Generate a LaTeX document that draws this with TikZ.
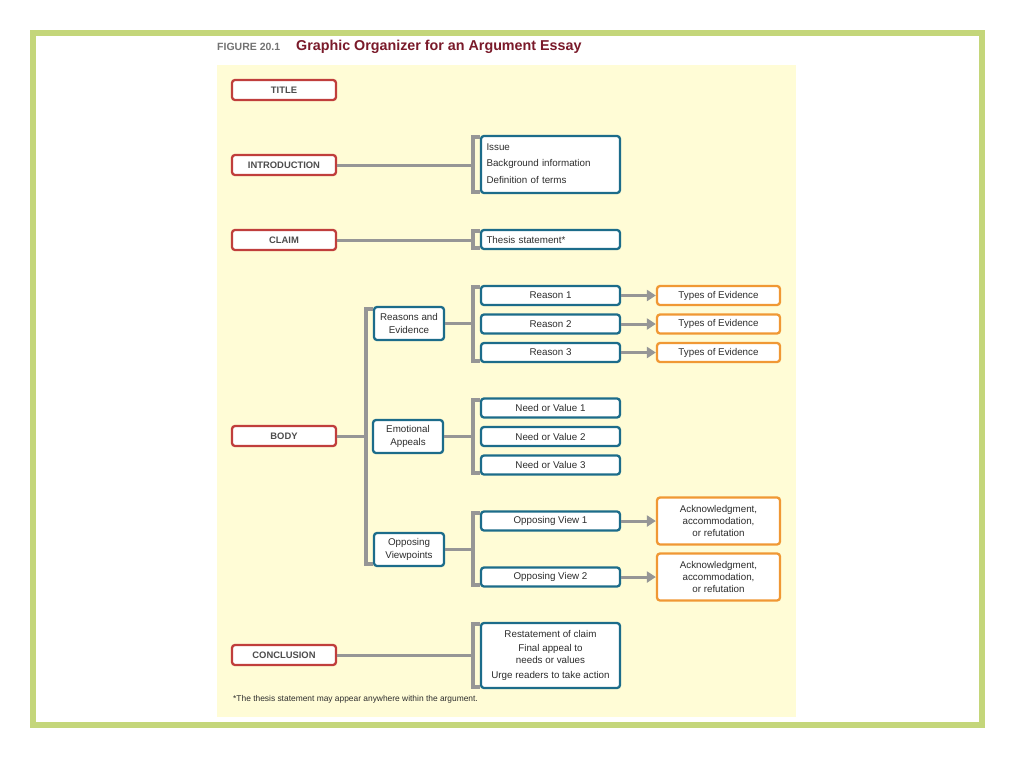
\documentclass[tikz,border=0pt]{standalone}
\usepackage{fontspec}
\setmainfont{Liberation Sans}
\usetikzlibrary{arrows.meta}
\definecolor{framegreen}{RGB}{196,214,122}
\definecolor{paneyellow}{RGB}{255,252,214}
\definecolor{boxred}{RGB}{192,62,60}
\definecolor{boxblue}{RGB}{28,108,138}
\definecolor{boxorange}{RGB}{240,152,52}
\definecolor{linegray}{RGB}{150,150,150}
\definecolor{titlered}{RGB}{122,26,42}
\definecolor{textgray}{RGB}{45,45,45}
\tikzset{
  box/.style={draw, fill=white, rounded corners=3pt, line width=2.3pt, inner sep=1pt,
    text=textgray, align=center, font=\fontsize{9.8}{12.3}\selectfont},
  redbox/.style={box, draw=boxred, minimum width=104pt, minimum height=20pt,
    font=\fontsize{9.4}{11}\selectfont\bfseries, text=black!70},
  bluebox/.style={box, draw=boxblue, minimum width=139pt, minimum height=19pt},
  subbox/.style={box, draw=boxblue, minimum width=70pt, minimum height=33pt},
  orangebox/.style={box, draw=boxorange, minimum width=123pt, minimum height=19pt},
  link/.style={draw=linegray, line width=3pt},
  bracketline/.style={draw=linegray, line width=3.2pt},
  arrowlink/.style={link, -{Triangle[length=9pt,width=11pt]}}
}
\begin{document}
\begin{tikzpicture}[x=1pt,y=-1pt]
% page, frame and panel
\useasboundingbox (0,0) rectangle (1024,768);
\fill[white] (0,0) rectangle (1024,768);
\draw[framegreen, line width=6pt] (33,33) rectangle (982,725);
\fill[paneyellow] (217,65) rectangle (796,717);
% heading
\node[anchor=west, inner sep=0pt, text=black!55, font=\fontsize{10.5}{12}\selectfont\bfseries] (fig) at (217,47) {FIGURE 20.1};
\node[anchor=west, inner sep=0pt, text=titlered, font=\fontsize{14.3}{16}\selectfont\bfseries] (heading) at (296,46.5) {Graphic Organizer for an Argument Essay};

% left column
\node[redbox] (title) at (284,90) {TITLE};
\node[redbox] (intro) at (284,165) {INTRODUCTION};
\node[redbox] (claim) at (284,240) {CLAIM};
\node[redbox] (body) at (284,436) {BODY};
\node[redbox] (concl) at (284,655) {CONCLUSION};

% introduction and claim
\node[bluebox, minimum height=57pt, text width=128pt, align=left, inner xsep=5pt] (introlist) at (550.5,164.5)
  {\strut Issue\\[4.5pt]\strut Background information\\[4.5pt]\strut Definition of terms};
\node[bluebox, text width=128pt, align=left, inner xsep=5pt] (thesis) at (550.5,239.5) {Thesis statement*};
\coordinate (introbrk) at (473,165);
\coordinate (claimbrk) at (473,240);
\draw[link] (intro.east) -- (introbrk);
\draw[link] (claim.east) -- (claimbrk);
\draw[bracketline] (480,137) -| (473,192) -- (480,192);
\draw[bracketline] (480,231) -| (473,248) -- (480,248);

% body
\node[subbox] (reasons) at (409,323.5) {Reasons and\\Evidence};
\node[subbox] (emotion) at (408,436.5) {Emotional\\Appeals};
\node[subbox] (opposing) at (409,549.5) {Opposing\\Viewpoints};
\coordinate (bodybrk) at (366,436);
\draw[link] (body.east) -- (bodybrk);
\draw[bracketline] (373,309) -| (366,564) -- (373,564);

% reasons
\foreach \i/\y in {1/295.5, 2/324, 3/352.5}{
  \node[bluebox] (reason\i) at (550.5,\y) {Reason \i};
  \node[orangebox] (evid\i) at (718.5,\y) {Types of Evidence};
  \draw[arrowlink] (reason\i.east) -- (evid\i.west);
}
\coordinate (reasonbrk) at (473,323.5);
\draw[link] (reasons.east) -- (reasonbrk);
\draw[bracketline] (480,287) -| (473,361) -- (480,361);

% emotional appeals
\foreach \i/\y in {1/408, 2/436.5, 3/465}{
  \node[bluebox] (need\i) at (550.5,\y) {Need or Value \i};
}
\coordinate (emotionbrk) at (473,436.5);
\draw[link] (emotion.east) -- (emotionbrk);
\draw[bracketline] (480,400) -| (473,473) -- (480,473);

% opposing viewpoints
\foreach \i/\y in {1/521, 2/577}{
  \node[bluebox] (view\i) at (550.5,\y) {Opposing View \i};
  \node[orangebox, minimum height=47pt] (answer\i) at (718.5,\y) {Acknowledgment,\\accommodation,\\or refutation};
  \draw[arrowlink] (view\i.east) -- (answer\i.west);
}
\coordinate (opposebrk) at (473,549.5);
\draw[link] (opposing.east) -- (opposebrk);
\draw[bracketline] (480,513) -| (473,585) -- (480,585);

% conclusion
\node[bluebox, minimum height=65pt] (concllist) at (550.5,655.5)
  {Restatement of claim\\[1.5pt]Final appeal to\\needs or values\\[3pt]Urge readers to take action};
\coordinate (conclbrk) at (473,655);
\draw[link] (concl.east) -- (conclbrk);
\draw[bracketline] (480,624) -| (473,687) -- (480,687);

% footnote
\node[anchor=west, inner sep=0pt, text=textgray, font=\fontsize{8.4}{9}\selectfont] (note) at (233,699)
  {*The thesis statement may appear anywhere within the argument.};
\end{tikzpicture}
\end{document}
